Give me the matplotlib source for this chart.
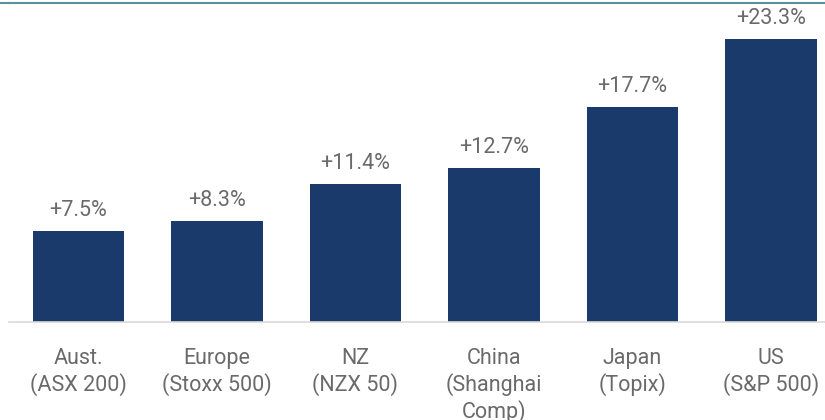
import matplotlib
matplotlib.use("Agg")
import matplotlib.pyplot as plt

categories = ["Aust.\n(ASX 200)", "Europe\n(Stoxx 500)", "NZ\n(NZX 50)",
              "China\n(Shanghai\nComp)", "Japan\n(Topix)", "US\n(S&P 500)"]
values = [7.5, 8.3, 11.4, 12.7, 17.7, 23.3]
value_labels = ["+7.5%", "+8.3%", "+11.4%", "+12.7%", "+17.7%", "+23.3%"]

plt.rcParams['font.family'] = ['Roboto', 'DejaVu Sans']

W, H = 825, 420
fig = plt.figure(figsize=(W/100, H/100), dpi=100)
left = 9/W
bottom = (H-322)/H
top = (H-3)/H
ax = fig.add_axes([left, bottom, 1-left, top-bottom])

bar_color = "#1a3a6b"
text_color = "#6a6a6a"
fs = 15.5
x = list(range(len(values)))
ax.bar(x, values, width=0.66, color=bar_color)
ax.set_xlim(-0.5, 5.39)
ax.set_ylim(0, 26.26)

for xi, v, lab in zip(x, values, value_labels):
    ax.annotate(lab, (xi, v), xytext=(0, 7), textcoords="offset points",
                ha="center", va="bottom", fontsize=fs, color=text_color)

ax.set_xticks(x)
ax.set_xticklabels(categories, fontsize=fs, color=text_color, linespacing=1.2, va="top")
ax.tick_params(axis="x", length=0, pad=19)
ax.set_yticks([])

for s in ["left", "right"]:
    ax.spines[s].set_visible(False)
ax.spines["bottom"].set_color("#d9d9d9")
ax.spines["bottom"].set_linewidth(1.2)
ax.spines["top"].set_color("#5d8f9e")
ax.spines["top"].set_linewidth(1.5)

fig.add_artist(plt.Line2D([0, left], [top, top], color="#5d8f9e", lw=1.5, transform=fig.transFigure))

fig.savefig("out.png", dpi=100)
